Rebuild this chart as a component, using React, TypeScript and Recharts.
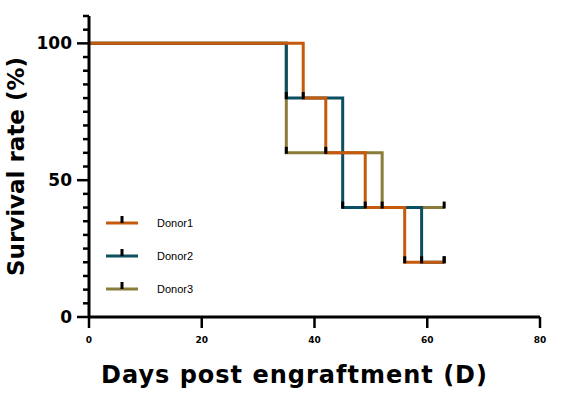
import React from "react";
import { LineChart, Line, XAxis, YAxis } from "recharts";

// Kaplan-Meier style step data (days, survival %)
const donor1Days = [0, 38, 42, 49, 56, 63];
const donor1Survival = [100, 80, 60, 40, 20, 20];
const donor2Days = [0, 35, 45, 59, 63];
const donor2Survival = [100, 80, 40, 20, 20];
const donor3Days = [0, 35, 52, 63];
const donor3Survival = [100, 60, 40, 40];

const seriesNames = ["Donor1", "Donor2", "Donor3"];
const seriesColors = ["#C55A0C", "#0C4F61", "#8B7C3B"];

const xTicks = [0, 20, 40, 60, 80];
const yTicks = [0, 5, 10, 15, 20, 25, 30, 35, 40, 45, 50, 55, 60, 65, 70, 75, 80, 85, 90, 95, 100, 105, 110];
const yMajor = [0, 50, 100];

const toRows = (days: number[], surv: number[]) => days.map((d, i) => ({ x: d, y: surv[i] }));
const d1 = toRows(donor1Days, donor1Survival);
const d2 = toRows(donor2Days, donor2Survival);
const d3 = toRows(donor3Days, donor3Survival);

const TITLE_FONT = "'DejaVu Sans', sans-serif";

const CensorDot = (props: any) => {
  const { cx, cy, index } = props;
  if (index === 0 || cx == null || cy == null) return <g key={`n${index}`} />;
  return <rect key={`c${index}`} x={cx - 1.5} y={cy - 6} width={3} height={7} fill="#000" />;
};

const YTick = (props: any) => {
  const { x, y, payload } = props;
  const v = payload.value;
  const major = yMajor.includes(v);
  return (
    <g>
      <line x1={x - (major ? 12 : 6)} x2={x} y1={y} y2={y} stroke="#000" strokeWidth={2.5} />
      {major && (
        <text x={x - 17} y={y} dy="0.36em" textAnchor="end" fontFamily="'DejaVu Sans', sans-serif" fontWeight="bold" fontSize={17} fill="#000">
          {v}
        </text>
      )}
    </g>
  );
};

const XTick = (props: any) => {
  const { x, y, payload } = props;
  return (
    <g>
      <line x1={x} x2={x} y1={y} y2={y + 11} stroke="#000" strokeWidth={2.5} />
      <text x={x} y={y + 23} dy="0.36em" textAnchor="middle" fontFamily="'DejaVu Sans', sans-serif" fontWeight="bold" fontSize={9} fill="#000">
        {payload.value}
      </text>
    </g>
  );
};

const YTitle = (props: any) => {
  const { viewBox } = props;
  const cx = viewBox.x + 16;
  const cy = viewBox.y + viewBox.height / 2;
  return (
    <text x={cx} y={cy} transform={`rotate(-90 ${cx} ${cy})`} textAnchor="middle" dy="0.36em" fontFamily={TITLE_FONT} fontWeight="bold" fontSize={23} fill="#000">
      Survival rate (%)
    </text>
  );
};

const XTitle = (props: any) => {
  const { viewBox } = props;
  const cx = viewBox.x + viewBox.width / 2 - 20;
  return (
    <text x={cx} y={viewBox.y + 66} textAnchor="middle" fontFamily={TITLE_FONT} fontWeight="bold" fontSize={24} letterSpacing={1} fill="#000">
      Days post engraftment (D)
    </text>
  );
};

const LegendBox = () => (
  <svg width={140} height={100} style={{ position: "absolute", left: 100, top: 211 }}>
    {seriesNames.map((name, i) => {
      const cy = 12 + i * 33;
      return (
        <g key={name}>
          <line x1={6} x2={38} y1={cy} y2={cy} stroke={seriesColors[i]} strokeWidth={3} />
          <rect x={20.5} y={cy - 7} width={3} height={7} fill="#000" />
          <text x={57} y={cy + 4} fontFamily="'Liberation Sans', Arial, sans-serif" fontSize={11} fill="#000">
            {name}
          </text>
        </g>
      );
    })}
  </svg>
);

export default function App() {
  return (
    <div style={{ position: "absolute", left: 0, top: 0, width: 563, height: 396, background: "#fff" }}>
      <LineChart width={563} height={396} margin={{ top: 16, right: 23, bottom: 49, left: 0 }}>
        <XAxis
          type="number"
          dataKey="x"
          domain={[0, 80]}
          ticks={xTicks}
          tick={<XTick />}
          tickLine={false}
          tickSize={0}
          tickMargin={0}
          axisLine={{ stroke: "#000", strokeWidth: 3 }}
          height={30}
          allowDataOverflow
          label={<XTitle />}
        />
        <YAxis
          type="number"
          dataKey="y"
          domain={[0, 110]}
          ticks={yTicks}
          interval={0}
          tick={<YTick />}
          tickLine={false}
          tickSize={0}
          tickMargin={0}
          width={89}
          axisLine={{ stroke: "#000", strokeWidth: 3 }}
          label={<YTitle />}
        />
        <Line data={d3} dataKey="y" type="stepAfter" stroke={seriesColors[2]} strokeWidth={3} dot={<CensorDot />} activeDot={false} isAnimationActive={false} />
        <Line data={d2} dataKey="y" type="stepAfter" stroke={seriesColors[1]} strokeWidth={3} dot={<CensorDot />} activeDot={false} isAnimationActive={false} />
        <Line data={d1} dataKey="y" type="stepAfter" stroke={seriesColors[0]} strokeWidth={3} dot={<CensorDot />} activeDot={false} isAnimationActive={false} />
      </LineChart>
      <LegendBox />
    </div>
  );
}
